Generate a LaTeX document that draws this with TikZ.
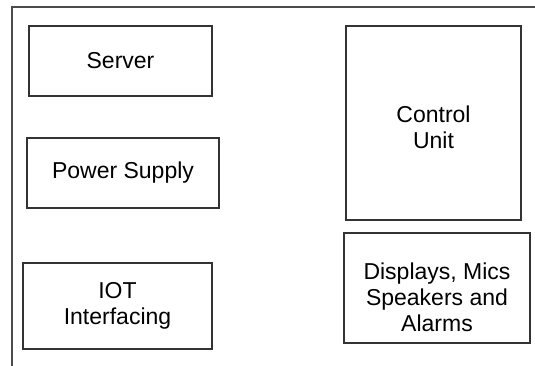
\documentclass[tikz,border=0pt]{standalone}
\usepackage{fontspec}
\setmainfont{Liberation Sans}

\begin{document}
\begin{tikzpicture}[x=1pt,y=-1pt,
  block/.style={draw=black!80, line width=1.4pt, align=center, inner sep=0pt,
    font=\fontsize{23}{26}\selectfont}]

\useasboundingbox (0,0) rectangle (535,366);

% frame round the units (only top and left edge show)
\draw[line width=1.8pt, black!70] (12,366) -- (12,7) -- (535,7);

% left column
\node[block, minimum width=183pt, minimum height=70pt] (server) at (120.5,61) {Server};
\node[block, minimum width=192pt, minimum height=70pt] (power) at (123,173) {Power Supply};
\node[block, minimum width=189pt, minimum height=86pt] (iot) at (117.5,306) {IOT\\Interfacing};

% right column
\node[block, minimum width=175pt, minimum height=194pt] (ctrl) at (433.5,123) {};
\node[align=center, font=\fontsize{23}{26}\selectfont] (ctrltext) at ([yshift=-4pt]ctrl.center)
  {Control\\Unit};
\node[block, minimum width=186pt, minimum height=110pt] (disp) at (437,288) {};
\node[align=center, font=\fontsize{23}{26}\selectfont] (disptext) at ([yshift=-9pt]disp.center)
  {Displays, Mics\\Speakers and\\Alarms};

\end{tikzpicture}
\end{document}
